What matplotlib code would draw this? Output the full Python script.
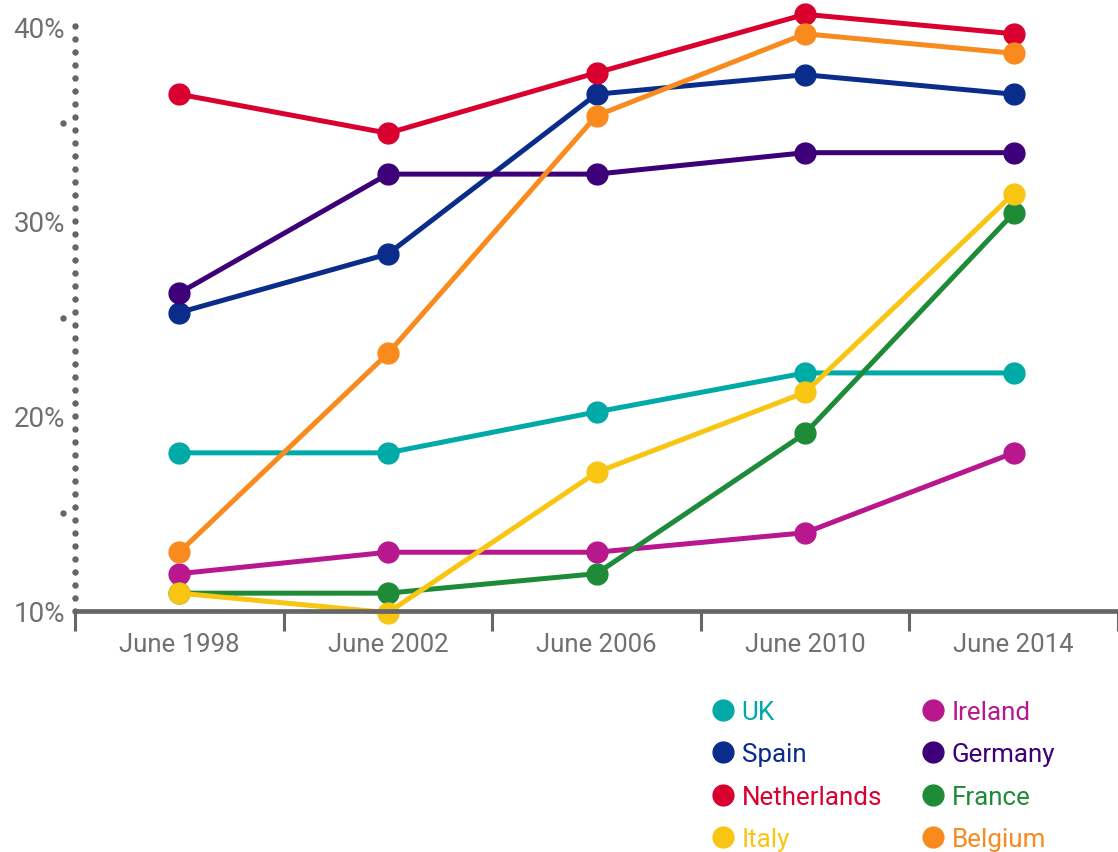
import matplotlib
matplotlib.use("Agg")
import matplotlib.pyplot as plt
import numpy as np
from matplotlib.lines import Line2D
from matplotlib.ticker import FixedLocator

plt.rcParams["font.family"] = ["Roboto", "DejaVu Sans"]
plt.rcParams["font.weight"] = "normal"

periods = ["June 1998", "June 2002", "June 2006", "June 2010", "June 2014"]

uk = [18.1, 18.1, 20.2, 22.2, 22.2]
ireland = [11.9, 13.0, 13.0, 14.0, 18.1]
spain = [25.3, 28.3, 36.5, 37.5, 36.5]
germany = [26.3, 32.4, 32.4, 33.5, 33.5]
netherlands = [36.5, 34.5, 37.6, 40.6, 39.6]
france = [10.9, 10.9, 11.9, 19.1, 30.4]
italy = [10.9, 9.9, 17.1, 21.2, 31.4]
belgium = [13.0, 23.2, 35.4, 39.6, 38.6]

series = [
    ("UK", uk, "#00aaa6"),
    ("Ireland", ireland, "#b8178d"),
    ("Spain", spain, "#0a2d8c"),
    ("Germany", germany, "#3e0079"),
    ("Netherlands", netherlands, "#d9002f"),
    ("France", france, "#1e8b38"),
    ("Italy", italy, "#f8c512"),
    ("Belgium", belgium, "#f98a1d"),
]

AXIS_GREY = "#666666"
TEXT_GREY = "#707070"

W, H = 1118, 853
fig = plt.figure(figsize=(W / 100, H / 100), dpi=100)
ax = fig.add_axes([75 / W, 1 - 611.7 / H, 1 - 75 / W, 611.7 / H])

x = np.arange(len(periods))
for name, vals, color in series:
    ax.plot(x, vals, color=color, linewidth=3.6, marker="o", markersize=15,
            solid_capstyle="round", clip_on=False, label=name)

ax.set_xlim(-0.5, len(periods) - 0.5)
ax.set_ylim(10, 10 + 611.7 / 19.49)

for side in ["top", "right", "left"]:
    ax.spines[side].set_visible(False)
ax.spines["bottom"].set_color(AXIS_GREY)
ax.spines["bottom"].set_linewidth(3.4)

# dotted left axis, plus small offset dots at the half-decades
ytr = ax.get_yaxis_transform()
ax.plot(np.zeros(46), np.linspace(10, 40, 46), "o", ms=3.6, color=AXIS_GREY,
        transform=ytr, clip_on=False)
ax.plot(np.full(3, -12 / 1043), [15, 25, 35], "o", ms=3.6, color=AXIS_GREY,
        transform=ytr, clip_on=False)

ax.set_yticks([10, 20, 30, 40])
ax.set_yticklabels(["10%", "20%", "30%", "40%"])
ax.tick_params(axis="y", length=0, pad=7, labelsize=20, labelcolor=TEXT_GREY)

ax.set_xticks(x)
ax.set_xticklabels(periods)
ax.xaxis.set_minor_locator(FixedLocator(np.arange(-0.5, len(periods), 1.0)))
ax.tick_params(axis="x", which="major", length=0, pad=15.5, labelsize=18.5,
               labelcolor=TEXT_GREY)
ax.tick_params(axis="x", which="minor", length=14.5, width=2.2,
               color=AXIS_GREY, direction="out")

order = ["UK", "Spain", "Netherlands", "Italy", "Ireland", "Germany", "France", "Belgium"]
lookup = {name: color for name, _, color in series}
handles = [Line2D([], [], ls="none", marker="o", ms=15, color=lookup[n]) for n in order]
leg = fig.legend(handles, order, loc="upper left", bbox_to_anchor=(712 / W, 1 - 701 / H),
                 ncol=2, frameon=False, fontsize=18.7, handlelength=0.82,
                 handletextpad=0.32, labelspacing=0.71, columnspacing=1.55,
                 borderpad=0, borderaxespad=0)
for text, n in zip(leg.get_texts(), order):
    text.set_color(lookup[n])

fig.savefig("out.png", dpi=100)
